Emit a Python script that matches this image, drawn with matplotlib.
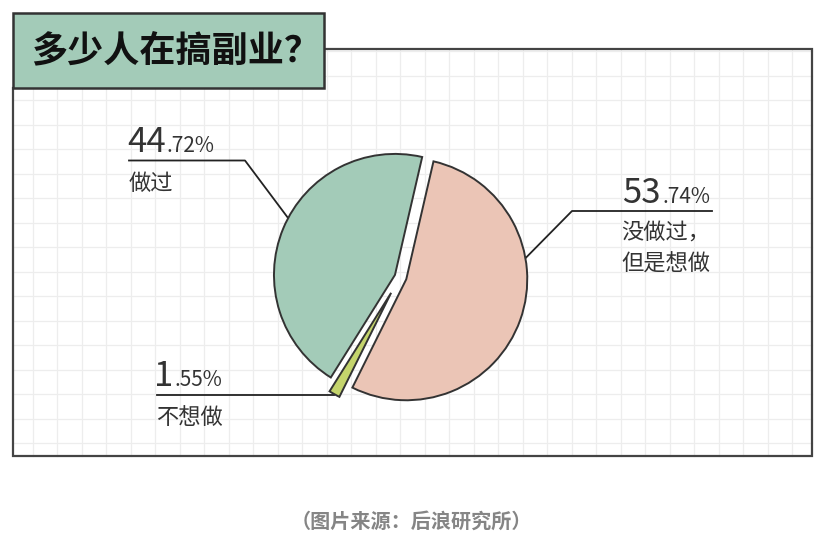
import numpy as np
import matplotlib
matplotlib.use("Agg")
import matplotlib.pyplot as plt

plt.rcParams['font.family'] = ['Noto Sans CJK SC', 'DejaVu Sans']

# ---- data ----
categories = ['做过', '不想做', '没做过，\n但是想做']
values = [44.72, 1.55, 53.74]
int_parts = ['44', '1', '53']
dec_parts = ['.72%', '.55%', '.74%']
title = '多少人在搞副业？'
caption = '（图片来源：后浪研究所）'

# ---- style ----
colors = ['#a3cbb8', '#c4d46c', '#ebc5b6']
explode = [0.045, 0.15, 0.055]
edge = '#333333'
W, H = 826, 542

fig = plt.figure(figsize=(W / 100, H / 100), dpi=100)
fig.patch.set_facecolor('white')

# overlay axes in pixel coordinates
ax = fig.add_axes([0, 0, 1, 1])
ax.set_xlim(0, W)
ax.set_ylim(H, 0)
ax.axis('off')

fx0, fx1, fy0, fy1 = 13, 812, 49, 456
# grid
for gx in np.arange(8.2, fx1, 24.5):
    if gx > fx0 + 1:
        ax.plot([gx, gx], [fy0, fy1], color='#ededed', lw=0.9, zorder=0)
for gy in np.arange(75.5 - 24.5, fy1, 24.5):
    if gy > fy0 + 1:
        ax.plot([fx0, fx1], [gy, gy], color='#ededed', lw=0.9, zorder=0)
# frame
ax.plot([fx0, fx0, fx1, fx1, 324], [88, fy1, fy1, fy0, fy0], color='#444444', lw=1.6,
        solid_joinstyle='miter', zorder=2)
# title box
ax.add_patch(plt.Rectangle((13, 13), 311, 75, facecolor=colors[0], edgecolor='#333333',
                           lw=1.8, zorder=3))
ax.text(31, 51, title, fontsize=26, fontweight='bold', color='#111111',
        ha='left', va='center', zorder=4)
# caption
ax.text(411, 521, caption, fontsize=14.5, fontweight='bold', color='#858585',
        ha='center', va='center')

# pie axes: centre at (400, 277) px, radius 121 px
cx, cy, R, L = 400, 277, 121, 1.5
side = 2 * L * R
pax = fig.add_axes([(cx - side / 2) / W, (H - cy - side / 2) / H, side / W, side / H])
wedges, _ = pax.pie(values, colors=colors, explode=explode, startangle=77,
                    counterclock=True, radius=1.0,
                    wedgeprops=dict(edgecolor=edge, linewidth=1.4))
wedges[1].set_radius(0.96)
pax.set_xlim(-L, L)
pax.set_ylim(-L, L)
pax.axis('off')

fig.canvas.draw()
renderer = fig.canvas.get_renderer()
to_px = pax.transData + ax.transData.inverted()


def attach(w, ang):
    a = np.deg2rad(ang)
    px = (w.center[0] + w.r * np.cos(a), w.center[1] + w.r * np.sin(a))
    return to_px.transform(px)


num_color = '#333333'
big, small, lab = 25, 15, 16
# label: 做过 (left)
p = attach(wedges[0], 152)
ax.plot([129, 245, p[0]], [160.5, 160.5, p[1]], color='#222222', lw=1.3, zorder=5)
t1 = ax.text(127, 152, int_parts[0], fontsize=big, color=num_color, ha='left',
             va='baseline', fontweight='light')
# label: 不想做 (bottom left)
p = attach(wedges[1], (77 + 360 * values[0] / 100 + 360 * values[1] / 200))
ax.plot([157, p[0]], [395, 395], color='#222222', lw=1.3, zorder=5)
t2 = ax.text(154, 386, int_parts[1], fontsize=big, color=num_color, ha='left',
             va='baseline', fontweight='light')
fig.canvas.draw()
for t, dp in ((t1, dec_parts[0]), (t2, dec_parts[1])):
    bb = t.get_window_extent(renderer)
    xr = ax.transData.inverted().transform((bb.x1, bb.y0))[0]
    x0, yb = t.get_position()
    ax.text(xr + 1, yb, dp, fontsize=small, color=num_color, ha='left', va='baseline',
            fontweight='light')
ax.text(129, 183, categories[0], fontsize=lab, color=num_color, ha='left', va='center')
ax.text(156, 417, categories[1], fontsize=lab, color=num_color, ha='left', va='center')

# label: 没做过 (right)
p = attach(wedges[2], 10)
ax.plot([712, 572, p[0]], [211, 211, p[1]], color='#222222', lw=1.3, zorder=5)
t3 = ax.text(710, 203, dec_parts[2], fontsize=small, color=num_color, ha='right',
             va='baseline', fontweight='light')
fig.canvas.draw()
bb = t3.get_window_extent(renderer)
xl = ax.transData.inverted().transform((bb.x0, bb.y0))[0]
ax.text(xl - 1, 203, int_parts[2], fontsize=big, color=num_color, ha='right',
        va='baseline', fontweight='light')
ax.text(710, 248, categories[2], fontsize=lab, color=num_color, ha='right', va='center',
        linespacing=1.45)

fig.savefig('out.png', dpi=100, facecolor='white')
